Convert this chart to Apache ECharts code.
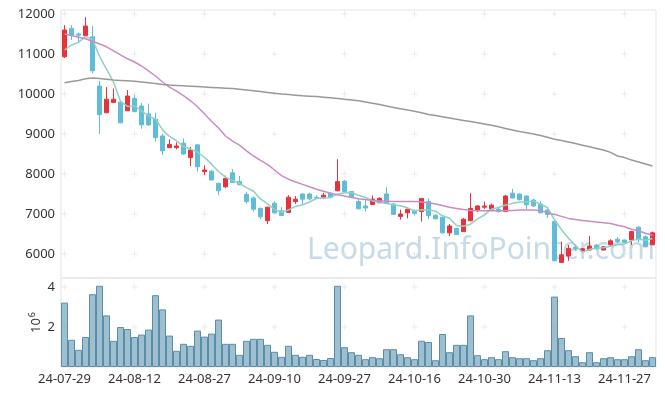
<!DOCTYPE html>
<html><head><meta charset="utf-8">
<script src="https://cdn.jsdelivr.net/npm/echarts@6/dist/echarts.min.js"></script>
<style>html,body{margin:0;padding:0;background:#fff}#c{width:665px;height:396px}</style>
</head><body><div id="c"></div>
<script>
const dates = ['24-07-29','24-07-30','24-07-31','24-08-01','24-08-02','24-08-05','24-08-06','24-08-07','24-08-08','24-08-09',
'24-08-12','24-08-13','24-08-14','24-08-16','24-08-19','24-08-20','24-08-21','24-08-22','24-08-23','24-08-26',
'24-08-27','24-08-28','24-08-29','24-08-30','24-09-02','24-09-03','24-09-04','24-09-05','24-09-06','24-09-09',
'24-09-10','24-09-11','24-09-12','24-09-13','24-09-19','24-09-20','24-09-23','24-09-24','24-09-25','24-09-26',
'24-09-27','24-09-30','24-10-02','24-10-04','24-10-07','24-10-08','24-10-10','24-10-11','24-10-14','24-10-15',
'24-10-16','24-10-17','24-10-18','24-10-21','24-10-22','24-10-23','24-10-24','24-10-25','24-10-28','24-10-29',
'24-10-30','24-10-31','24-11-01','24-11-04','24-11-05','24-11-06','24-11-07','24-11-08','24-11-11','24-11-12',
'24-11-13','24-11-14','24-11-15','24-11-18','24-11-19','24-11-20','24-11-21','24-11-22','24-11-25','24-11-26',
'24-11-27','24-11-28','24-11-29','24-12-02','24-12-03'];

const opens = [10930,11640,11500,11460,11430,10200,9530,9790,9800,9580,
9890,9700,9500,9370,8950,8660,8660,8770,8410,8730,
8060,8070,7770,7680,8030,7810,7490,7400,7140,6830,
7270,7080,7040,7310,7500,7500,7420,7420,7520,7580,
7820,7560,7310,7200,7240,7280,7500,7250,6940,7030,
7070,7060,7310,6970,6920,6530,6640,6560,6830,7100,
7170,7120,7120,7060,7520,7500,7450,7350,7250,7100,
6810,5790,5950,6170,6080,6100,6220,6100,6230,6370,
6350,6350,6670,6430,6230];

const closes = [11600,11475,11470,11700,10580,9480,9870,9870,9280,9950,
9560,9230,9230,8910,8580,8740,8700,8500,8600,8180,
8100,7850,7580,7890,7790,7730,7310,7120,6930,7170,
7030,6960,7420,7370,7370,7380,7400,7470,7420,7810,
7560,7420,7130,7150,7370,7390,7270,6990,7000,7120,
7020,7390,6960,6880,6530,6700,6490,6870,7140,7200,
7200,7220,7060,7450,7400,7360,7230,7200,7030,6990,
5830,5980,6140,6130,6130,6200,6130,6180,6330,6310,
6290,6560,6370,6180,6530];

const lows = [10900,11350,11290,11460,10520,9000,9530,9780,9270,9580,
9540,9130,9200,8810,8480,8650,8620,8480,8200,8060,
7970,7840,7470,7650,7780,7720,7260,7060,6870,6750,
7020,6950,7030,7250,7240,7340,7380,7380,7410,7570,
7550,7410,7120,7060,7240,7280,7260,6980,6860,6890,
6970,6810,6870,6870,6510,6450,6480,6550,6820,7050,
7120,7070,7040,7050,7390,7340,7120,7180,7020,6900,
5820,5780,5830,6080,6060,6090,6110,6090,6200,6270,
6280,6230,6300,6170,6220];

const highs = [11720,11720,11540,11920,11700,10330,10170,10140,9810,10100,
9980,9780,9760,9530,9000,8870,8790,8890,8680,8730,
8220,8100,7780,7960,8120,7950,7560,7440,7160,7180,
7320,7170,7470,7450,7520,7530,7470,7530,7540,8370,
7850,7570,7390,7350,7460,7420,7670,7270,7110,7140,
7110,7400,7390,6990,6940,6750,6650,6900,7520,7220,
7310,7260,7170,7470,7630,7510,7460,7380,7320,7130,
6820,6310,6230,6200,6150,6450,6250,6200,6370,6420,
6360,6580,6690,6470,6560];

const ma5 = [11100,11225,11290,11440,11365,10941,10620,10300,9816,9690,
9706,9578,9450,9376,9102,8938,8832,8686,8624,8544,
8416,8246,8062,7920,7842,7768,7660,7568,7376,7252,
7112,7042,7102,7190,7230,7300,7388,7398,7408,7496,
7532,7536,7468,7414,7326,7292,7262,7234,7204,7154,
7080,7104,7098,7074,6956,6892,6712,6694,6746,6880,
6980,7126,7164,7226,7266,7298,7300,7328,7244,7162,
6856,6606,6394,6214,6042,6116,6146,6154,6194,6230,
6248,6334,6372,6342,6386];

const ma20 = [11500,11460,11420,11380,11320,11250,11180,11080,10980,10880,
10800,10700,10580,10450,10300,10170,10070,9960,9830,9680,
9500,9320,9150,8950,8820,8720,8580,8450,8340,8240,
8100,7960,7870,7800,7740,7680,7620,7570,7520,7480,
7450,7410,7380,7360,7340,7330,7320,7310,7310,7310,
7310,7300,7280,7250,7210,7170,7140,7110,7090,7080,
7080,7080,7080,7080,7090,7100,7100,7100,7090,7030,
6990,6940,6890,6860,6840,6820,6800,6780,6760,6720,
6680,6620,6580,6520,6470];

const maLong = [10280,10310,10340,10380,10400,10390,10370,10350,10340,10330,
10320,10300,10280,10260,10240,10225,10215,10205,10195,10185,
10175,10165,10155,10145,10135,10120,10100,10080,10060,10040,
10020,10000,9985,9970,9955,9945,9935,9920,9905,9890,
9870,9850,9830,9800,9770,9740,9700,9660,9630,9600,
9570,9530,9490,9460,9430,9400,9370,9340,9310,9280,
9250,9220,9180,9140,9100,9060,9030,9000,8960,8920,
8870,8840,8800,8760,8720,8680,8640,8600,8540,8450,
8410,8350,8300,8250,8200];

// volume in units of 10^6
const volumes = [3.22,1.36,0.86,1.50,3.64,4.06,2.58,1.31,2.00,1.90,
1.50,1.62,1.87,3.59,2.88,1.57,0.81,1.16,1.06,1.82,
1.52,1.67,2.37,1.16,1.16,0.61,1.31,1.41,1.41,1.11,
0.76,0.51,1.06,0.61,0.51,0.61,0.40,0.35,0.45,4.06,
0.99,0.74,0.61,0.39,0.49,0.44,0.89,0.89,0.64,0.49,
0.39,1.31,1.25,0.34,1.65,0.74,1.11,1.11,2.58,0.59,
0.39,0.49,0.39,0.79,0.49,0.44,0.44,0.34,0.44,0.84,
3.52,1.45,0.84,0.54,0.24,0.74,0.24,0.44,0.49,0.39,
0.39,0.54,0.89,0.34,0.49];

const priceTicks = [6000,7000,8000,9000,10000,11000,12000];
const volTicks = [2,4];
const gridCols = [0,10,20,30,40,50,60,70,80];

const candleData = opens.map((o,i)=>[o, closes[i], lows[i], highs[i]]);
const crossPrice = [], crossVol = [];
gridCols.forEach(c=>{ priceTicks.forEach(v=>crossPrice.push([c,v])); volTicks.forEach(v=>crossVol.push([c,v])); });
const plus = 'path://M4.3 0H5.7V4.3H10V5.7H5.7V10H4.3V5.7H0V4.3H4.3Z';
const FONT = '"Noto Sans", sans-serif';

const chart = echarts.init(document.getElementById('c'), null, {renderer:'canvas'});
chart.setOption({
  animation:false,
  backgroundColor:'#fff',
  graphic:[{type:'text', z:0, silent:true, left:307, top:235,
    style:{text:'Leopard.InfoPointer.com', font:'30px "Noto Sans", sans-serif', fill:'rgba(160,194,216,0.6)'}}],
  grid:[
    {left:61, top:10, width:595, height:268, show:true, borderColor:'#e4e4e4', borderWidth:1, containLabel:false},
    {left:61, top:278, width:595, height:89, show:true, borderColor:'#e4e4e4', borderWidth:1, containLabel:false}
  ],
  xAxis:[
    {type:'category', gridIndex:0, data:dates, boundaryGap:true,
     axisLine:{show:false}, axisTick:{show:false}, axisLabel:{show:false}, splitLine:{show:false}},
    {type:'category', gridIndex:1, data:dates, boundaryGap:true,
     axisLine:{show:false}, axisTick:{show:false}, splitLine:{show:false},
     axisLabel:{interval:9, color:'#333', fontSize:13, fontFamily:FONT, margin:6}}
  ],
  yAxis:[
    {type:'value', gridIndex:0, min:5400, max:12100, interval:100, scale:true,
     axisLine:{show:false}, axisTick:{show:false}, splitLine:{show:false},
     axisLabel:{color:'#333', fontSize:13, fontFamily:FONT, margin:6,
       formatter:v=>priceTicks.includes(v)?String(v):''}},
    {type:'value', gridIndex:1, min:0, max:4.45, interval:1,
     axisLine:{show:false}, axisTick:{show:false}, splitLine:{show:false},
     axisLabel:{color:'#333', fontSize:13, fontFamily:FONT, margin:6,
       formatter:v=>volTicks.includes(v)?String(v):''},
     name:'{b|10}{s|6}', nameLocation:'middle', nameRotate:90, nameGap:16, nameMoveOverlap:false,
     nameTextStyle:{rich:{b:{fontSize:13, color:'#333', fontFamily:FONT}, s:{fontSize:9, color:'#333', fontFamily:FONT, verticalAlign:'top', padding:[0,0,8,1]}}}}
  ],
  series:[
    {type:'scatter', xAxisIndex:0, yAxisIndex:0, data:crossPrice, symbol:plus, symbolSize:6, silent:true, z:0,
     itemStyle:{color:'#e3e3e3'}},
    {type:'scatter', xAxisIndex:1, yAxisIndex:1, data:crossVol, symbol:plus, symbolSize:6, silent:true, z:0,
     itemStyle:{color:'#e3e3e3'}},
    {type:'candlestick', xAxisIndex:0, yAxisIndex:0, data:candleData, barWidth:5, z:3,
     itemStyle:{color:'#e8323b', color0:'#5fbdd8', borderColor:'#e8323b', borderColor0:'#5fbdd8', borderWidth:1}},
    {type:'line', xAxisIndex:0, yAxisIndex:0, data:ma5, symbol:'none', z:4,
     lineStyle:{color:'#8fd0c4', width:1.5}},
    {type:'line', xAxisIndex:0, yAxisIndex:0, data:ma20, symbol:'none', z:4,
     lineStyle:{color:'#c98cc4', width:1.5}},
    {type:'line', xAxisIndex:0, yAxisIndex:0, data:maLong, symbol:'none', z:4,
     lineStyle:{color:'#999999', width:1.5}},
    {type:'bar', xAxisIndex:1, yAxisIndex:1, data:volumes, barCategoryGap:'0%', z:3,
     itemStyle:{color:'rgba(125,170,192,0.75)', borderColor:'#5a8ea8', borderWidth:1}}
  ]
});
</script></body></html>
